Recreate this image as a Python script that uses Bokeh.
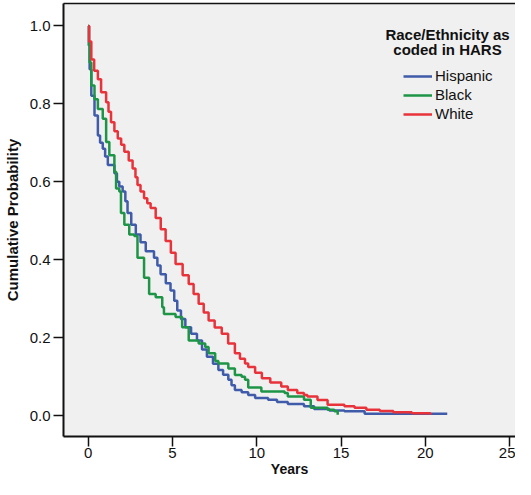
from bokeh.plotting import figure
from bokeh.models import Range1d, Legend, LegendItem, Label, FixedTicker, LinearAxis, CustomJSTickFormatter
from bokeh.embed import file_html
from bokeh.resources import INLINE

# ---- data ----
legend_title = ["Race/Ethnicity as", "coded in HARS"]
series_names = ["Hispanic", "Black", "White"]
x_label = "Years"
y_label = "Cumulative Probability"

hisp_t = [0, 0.04, 0.08, 0.18, 0.37, 0.57, 0.7, 0.86, 1.0, 1.16, 1.55, 1.7, 1.84, 2.04, 2.2, 2.33,
          2.55, 2.82, 3.1, 3.41, 3.9, 4.1, 4.29, 4.6, 4.88, 5.1, 5.28, 5.5, 5.76, 6.1, 6.45, 6.75,
          7.04, 7.4, 7.72, 8.0, 8.31, 8.5, 8.7, 9.1, 9.49, 9.9, 10.67, 11.2, 11.84, 12.8, 13.4,
          14.3, 15.2, 16.4, 21.3]
hisp_p = [1.0, 0.95, 0.889, 0.821, 0.77, 0.719, 0.70, 0.685, 0.665, 0.643, 0.622, 0.60, 0.588,
          0.575, 0.55, 0.52, 0.49, 0.465, 0.445, 0.422, 0.405, 0.385, 0.363, 0.34, 0.321, 0.295,
          0.27, 0.248, 0.227, 0.21, 0.193, 0.17, 0.151, 0.133, 0.117, 0.105, 0.092, 0.078, 0.066,
          0.06, 0.053, 0.045, 0.041, 0.035, 0.03, 0.024, 0.017, 0.013, 0.011, 0.005, 0.005]

black_t = [0, 0.04, 0.08, 0.18, 0.37, 0.57, 0.86, 1.06, 1.25, 1.55, 1.65, 1.84, 1.94, 2.14, 2.43,
           2.73, 2.92, 3.31, 3.61, 4.0, 4.39, 4.49, 5.18, 5.57, 5.96, 6.55, 6.94, 7.14, 7.53, 7.72,
           8.31, 8.7, 9.1, 9.3, 9.49, 10.27, 11.65, 11.84, 12.8, 13.2, 14.2, 14.6, 14.8]
black_p = [1.0, 0.95, 0.906, 0.847, 0.812, 0.787, 0.762, 0.702, 0.668, 0.626, 0.583, 0.575, 0.52,
           0.49, 0.465, 0.461, 0.405, 0.354, 0.312, 0.304, 0.278, 0.261, 0.253, 0.227, 0.193, 0.185,
           0.176, 0.16, 0.14, 0.134, 0.121, 0.104, 0.1, 0.092, 0.072, 0.062, 0.058, 0.049, 0.041,
           0.02, 0.015, 0.011, 0.0025]

white_t = [0, 0.05, 0.18, 0.35, 0.57, 0.76, 1.06, 1.2, 1.35, 1.55, 1.75, 1.95, 2.14, 2.4, 2.63,
           2.8, 2.92, 3.1, 3.31, 3.5, 3.7, 4.0, 4.3, 4.59, 4.9, 5.18, 5.6, 5.96, 6.25, 6.55, 6.85,
           7.14, 7.5, 7.92, 8.3, 8.7, 9.0, 9.3, 9.49, 9.9, 10.3, 10.8, 11.45, 11.84, 12.4, 12.8,
           13.0, 13.6, 14.2, 15.2, 15.8, 16.5, 17.3, 18.1, 19.2, 20.3]
white_p = [1.0, 0.96, 0.914, 0.885, 0.863, 0.83, 0.804, 0.78, 0.753, 0.73, 0.711, 0.695, 0.677,
           0.655, 0.634, 0.612, 0.592, 0.575, 0.558, 0.545, 0.533, 0.507, 0.478, 0.448, 0.418,
           0.389, 0.36, 0.338, 0.312, 0.287, 0.265, 0.244, 0.226, 0.21, 0.185, 0.16, 0.146, 0.134,
           0.125, 0.11, 0.096, 0.085, 0.075, 0.066, 0.058, 0.053, 0.049, 0.040, 0.028, 0.024, 0.02,
           0.015, 0.012, 0.009, 0.006, 0.0025]

x_ticks = [0, 5, 10, 15, 20, 25]
y_ticks = [0.0, 0.2, 0.4, 0.6, 0.8, 1.0]

colors = ["#3F5BAA", "#1E9447", "#E8333B"]
FONT = "Liberation Sans"
INK = "#111111"

p = figure(width=515, height=479, output_backend="svg", toolbar_location=None,
           x_range=Range1d(-1.47, 25.35), y_range=Range1d(-0.0535, 1.0576),
           min_border_left=59, min_border_right=0, min_border_top=3, min_border_bottom=40)

p.background_fill_color = "#F0F0F0"
p.border_fill_color = "white"
p.outline_line_color = None
p.xgrid.visible = False
p.ygrid.visible = False

renderers = []
for t, pr, c in [(hisp_t, hisp_p, colors[0]), (black_t, black_p, colors[1]), (white_t, white_p, colors[2])]:
    r = p.step(t, pr, mode="after", line_color=c, line_width=2.5)
    renderers.append(r)

for ax in (p.xaxis[0], p.yaxis[0]):
    ax.axis_line_color = INK
    ax.axis_line_width = 2
    ax.major_tick_line_color = INK
    ax.major_tick_line_width = 1.5
    ax.major_tick_out = 10
    ax.major_tick_in = 0
    ax.minor_tick_line_color = None
    ax.major_label_text_font = FONT
    ax.major_label_text_font_size = "15px"
    ax.major_label_text_color = INK
    ax.axis_label_text_font = FONT
    ax.axis_label_text_font_size = "15px"
    ax.axis_label_text_font_style = "bold"
    ax.axis_label_text_color = INK

p.xaxis.ticker = FixedTicker(ticks=x_ticks)
p.yaxis.ticker = FixedTicker(ticks=y_ticks)
p.yaxis.formatter = CustomJSTickFormatter(code="return tick.toFixed(1);")
p.xaxis.major_label_standoff = 1
p.yaxis.major_label_standoff = 3
p.yaxis.axis_label = y_label
p.yaxis.axis_label_standoff = 6
p.xaxis.axis_label = x_label
p.xaxis.axis_label_standoff = 0
p.xaxis.axis_label_text_font_size = "14px"

# top frame line (the right edge is cropped in the reference)
top_axis = LinearAxis(ticker=FixedTicker(ticks=[]), axis_line_color=INK, axis_line_width=1.5,
                      major_tick_line_color=None, minor_tick_line_color=None,
                      major_label_text_font_size="0px")
p.add_layout(top_axis, "above")

legend = Legend(items=[LegendItem(label=n, renderers=[r]) for n, r in zip(series_names, renderers)],
                location=(340, 314), padding=0, margin=0, spacing=2,
                glyph_width=29, glyph_height=16, label_height=16, label_standoff=3,
                label_text_font=FONT, label_text_font_size="15px", label_text_color=INK,
                border_line_color=None, background_fill_alpha=0)
p.add_layout(legend, "center")

for i, line in enumerate(legend_title):
    p.add_layout(Label(x=384, y=402 - 14.5 * i, x_units="screen", y_units="screen", text=line,
                       text_align="center", text_baseline="middle", text_font=FONT,
                       text_font_size="15px", text_font_style="bold", text_color=INK))

open("out.html", "w").write(file_html(p, INLINE))
